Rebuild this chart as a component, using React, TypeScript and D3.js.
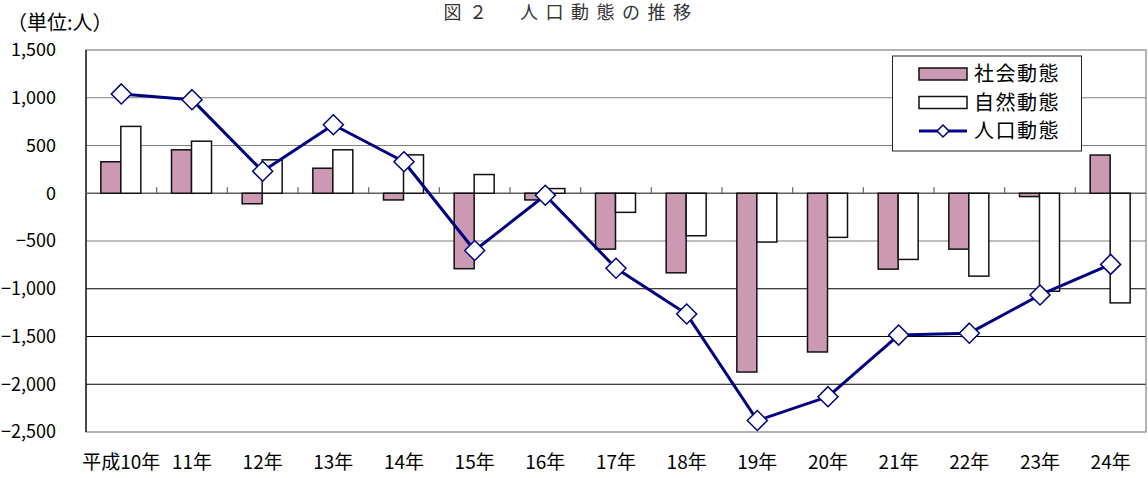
import React from "react";
import * as d3 from "d3";

const categories = ["平成10年", "11年", "12年", "13年", "14年", "15年", "16年", "17年", "18年", "19年", "20年", "21年", "22年", "23年", "24年"];
const socialChange = [330, 455, -110, 262, -70, -790, -70, -585, -833, -1872, -1662, -795, -585, -35, 400];
const naturalChange = [700, 545, 350, 455, 402, 196, 49, -200, -445, -511, -462, -693, -868, -1026, -1148];
const populationChange = [1040, 980, 230, 717, 330, -600, -21, -785, -1265, -2380, -2130, -1485, -1465, -1065, -745];
const yTicks = [1500, 1000, 500, 0, -500, -1000, -1500, -2000, -2500];
const legendLabels = ["社会動態", "自然動態", "人口動態"];

const W = 1148, H = 478;
const left = 86, right = 1146, top = 50, bottom = 432;
const PINK = "#CC99B3";
const NAVY = "#000080";
const FONT = "'Noto Sans CJK JP', 'Liberation Sans', sans-serif";

export default function App() {
  const x = d3.scaleBand<string>().domain(categories).range([left, right]).padding(0);
  const y = d3.scaleLinear().domain([-2500, 1500]).range([bottom, top]);
  const bw = x.bandwidth();
  const barW = 20;
  const cx = (i: number) => (x(categories[i]) as number) + bw / 2;
  const y0 = y(0);
  const fmt = d3.format(",");
  const line = d3.line<number>().x((_, i) => cx(i)).y((d) => y(d));
  const diamond = (px: number, py: number, r: number) =>
    `M${px},${py - r}L${px + r},${py}L${px},${py + r}L${px - r},${py}Z`;

  const lx = 919, ly = [74, 102.5, 131];

  return (
    <svg width={W} height={H} style={{ position: "absolute", left: 0, top: 0, background: "#fff" }} fontFamily={FONT}>
      <rect x={0} y={0} width={W} height={H} fill="#fff" />
      <text x={571} y={19} textAnchor="middle" fontSize={18} letterSpacing={7.5} fill="#333">図２　人口動態の推移</text>
      <text x={7} y={30} fontSize={20} fill="#000">（単位:人）</text>

      {/* gridlines */}
      {yTicks.filter((t) => t !== 1500 && t !== -2500 && t !== 0).map((t) => (
        <line key={t} x1={left} x2={right} y1={y(t)} y2={y(t)} stroke={t > -1000 ? "#808080" : "#000"} strokeWidth={1.2} />
      ))}
      {/* plot border */}
      <rect x={left} y={top} width={right - left} height={bottom - top} fill="none" stroke="#808080" strokeWidth={1.2} />
      <line x1={left} x2={left} y1={top} y2={bottom} stroke="#000" strokeWidth={1.2} />

      {/* y labels */}
      {yTicks.map((t) => (
        <text key={t} x={56} y={y(t)} dy="0.36em" textAnchor="end" fontSize={18} fill="#000">{fmt(t)}</text>
      ))}

      {/* zero axis and category ticks */}
      <line x1={left} x2={right} y1={y0} y2={y0} stroke="#606060" strokeWidth={1.5} />
      {categories.map((c, i) => i > 0 ? (
        <line key={c} x1={x(c) as number} x2={x(c) as number} y1={y0 - 6} y2={y0} stroke="#606060" strokeWidth={1.2} />
      ) : null)}

      {/* bars */}
      {categories.map((c, i) => (
        <g key={c}>
          <rect x={cx(i) - barW - 0.5} y={Math.min(y(socialChange[i]), y0)} width={barW} height={Math.abs(y(socialChange[i]) - y0)} fill={PINK} stroke="#111" strokeWidth={1.5} />
          <rect x={cx(i) - 0.5} y={Math.min(y(naturalChange[i]), y0)} width={barW} height={Math.abs(y(naturalChange[i]) - y0)} fill="#fff" stroke="#111" strokeWidth={1.5} />
        </g>
      ))}

      {/* line */}
      <path d={line(populationChange) as string} fill="none" stroke={NAVY} strokeWidth={3} strokeLinejoin="round" />
      {populationChange.map((v, i) => (
        <path key={i} d={diamond(cx(i), y(v), 10)} fill="#fff" stroke={NAVY} strokeWidth={1.5} />
      ))}

      {/* x labels */}
      {categories.map((c, i) => (
        <text key={c} x={cx(i)} y={462} dy="0.36em" textAnchor="middle" fontSize={19} fill="#000">{c}</text>
      ))}

      {/* legend */}
      <rect x={892.5} y={56} width={189} height={95} fill="#fff" stroke="#222" strokeWidth={1} />
      <rect x={lx} y={ly[0] - 6} width={48} height={12} fill={PINK} stroke="#111" strokeWidth={1.5} />
      <rect x={lx} y={ly[1] - 6} width={48} height={12} fill="#fff" stroke="#111" strokeWidth={1.5} />
      <line x1={lx} x2={lx + 48} y1={ly[2]} y2={ly[2]} stroke={NAVY} strokeWidth={3} />
      <path d={diamond(lx + 24, ly[2], 6)} fill="#fff" stroke={NAVY} strokeWidth={1.5} />
      {legendLabels.map((l, i) => (
        <text key={l} x={974} y={ly[i]} dy="0.36em" fontSize={20} letterSpacing={1.5} fill="#000">{l}</text>
      ))}
    </svg>
  );
}
